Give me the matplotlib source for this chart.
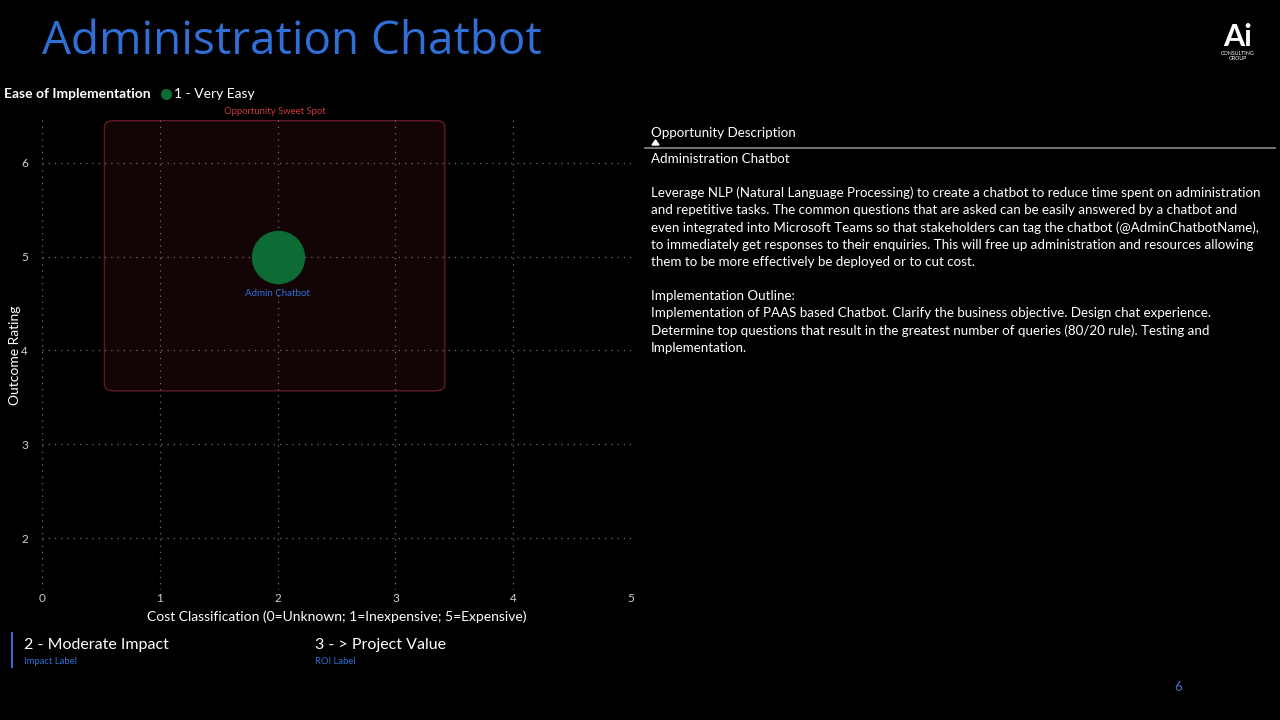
import matplotlib.pyplot as plt
from matplotlib.patches import FancyBboxPatch

# ---- Data ----
names = ["Admin Chatbot"]
cost = [2]
outcome = [5]
x_ticks = [0, 1, 2, 3, 4, 5]
y_ticks = [2, 3, 4, 5, 6]
sweet_x = (0.53, 3.42)
sweet_y = (3.57, 6.45)

desc_title = "Administration Chatbot"
desc_lines = [
    "Leverage NLP (Natural Language Processing) to create a chatbot to reduce time spent on administration",
    "and repetitive tasks. The common questions that are asked can be easily answered by a chatbot and",
    "even integrated into Microsoft Teams so that stakeholders can tag the chatbot (@AdminChatbotName),",
    "to immediately get responses to their enquiries. This will free up administration and resources allowing",
    "them to be more effectively be deployed or to cut cost.",
]
outline_lines = [
    "Implementation Outline:",
    "Implementation of PAAS based Chatbot. Clarify the business objective. Design chat experience.",
    "Determine top questions that result in the greatest number of queries (80/20 rule). Testing and",
    "Implementation.",
]

BG = "black"
BLUE = "#2f6fd6"
GREEN = "#0d6b34"
plt.rcParams['font.family'] = ['Lato', 'DejaVu Sans']

W, H = 1280, 720
fig = plt.figure(figsize=(12.8, 7.2), dpi=100, facecolor=BG)


def px(x, y):
    return x / W, 1 - y / H


def ftext(x, y, s, **kw):
    fx, fy = px(x, y)
    fig.text(fx, fy, s, **kw)


# ---- Scatter panel ----
ax = fig.add_axes([42 / W, 1 - 590 / H, 589 / W, 470 / H], facecolor=BG)
ax.set_xlim(0, 5)
ax.set_ylim(1.447, 6.457)
ax.set_xticks(x_ticks)
ax.set_yticks(y_ticks)
ax.tick_params(length=0, colors="#d0d0d0", labelsize=8.5)
ax.tick_params(axis="y", pad=10)
ax.tick_params(axis="x", pad=2)
for s in ax.spines.values():
    s.set_visible(False)
ax.grid(True, color="#707070", linestyle=(0, (1, 4)), linewidth=0.9, zorder=2)
ax.set_axisbelow(False)

box = FancyBboxPatch((sweet_x[0], sweet_y[0]), sweet_x[1] - sweet_x[0], sweet_y[1] - sweet_y[0],
                     boxstyle="round,pad=0,rounding_size=0.08", mutation_aspect=0.8,
                     facecolor="#130406", edgecolor="#5e1a24", linewidth=1, zorder=1)
ax.add_patch(box)
ax.text(sum(sweet_x) / 2, sweet_y[1] + 0.05, "Opportunity Sweet Spot", color="#cc3b3b",
        fontsize=6.8, ha="center", va="bottom")

ax.scatter(cost, outcome, s=1400, color=GREEN, zorder=3)
for n, xv, yv in zip(names, cost, outcome):
    ax.text(xv, yv - 0.39, n, color=BLUE, fontsize=7, ha="center", va="center", zorder=4)

ax.set_xlabel("Cost Classification (0=Unknown; 1=Inexpensive; 5=Expensive)",
              color="white", fontsize=10, labelpad=5)
ax.set_ylabel("Outcome Rating", color="white", fontsize=10, labelpad=0)

# ---- Header ----
ftext(42, 42, "Administration Chatbot", color=BLUE, fontsize=33, va="center",
      family=["Open Sans", "DejaVu Sans"])
ftext(1238, 37, "Ai", color="white", fontsize=22, fontweight="bold", ha="center", va="center")
ftext(1238, 56, "CONSULTING\nGROUP", color="white", fontsize=3.8, ha="center", va="center",
      linespacing=1.2)

# legend
ftext(4, 94, "Ease of Implementation", color="white", fontsize=10, fontweight="bold", va="center")
fig.add_artist(plt.Line2D([166 / W], [1 - 94 / H], marker="o", markersize=7, color=GREEN,
                          linestyle="none"))
ftext(174, 94, "1 - Very Easy", color="white", fontsize=10, va="center")

# ---- Cards at bottom ----
fig.add_artist(plt.Line2D([12 / W, 12 / W], [1 - 633 / H, 1 - 667 / H], color=BLUE, linewidth=1.5))
ftext(24, 645, "2 - Moderate Impact", color="white", fontsize=11.5, va="center")
ftext(24, 661, "Impact Label", color=BLUE, fontsize=6.8, va="center")
ftext(315, 645, "3 - > Project Value", color="white", fontsize=11.5, va="center")
ftext(315, 661, "ROI Label", color=BLUE, fontsize=6.8, va="center")

# ---- Description panel ----
ftext(651, 133, "Opportunity Description", color="white", fontsize=9.6, va="center")
fig.add_artist(plt.Polygon([px(652, 145), px(659, 145), px(655.5, 140)], closed=True,
                           color="white", transform=fig.transFigure))
fig.add_artist(plt.Line2D([645 / W, 1275 / W], [1 - 148 / H, 1 - 148 / H],
                          color="#8a8a8a", linewidth=1.2))
ftext(651, 159, desc_title, color="white", fontsize=9.6, va="center")
for i, line in enumerate(desc_lines):
    ftext(651, 193 + i * 17.3, line, color="white", fontsize=9.6, va="center")
for i, line in enumerate(outline_lines):
    ftext(651, 296 + i * 17.2, line, color="white", fontsize=9.6, va="center")

ftext(1178, 687, "6", color="#4a6fc4", fontsize=9.5, ha="center", va="center")

fig.savefig("out.png", dpi=100, facecolor=BG)
